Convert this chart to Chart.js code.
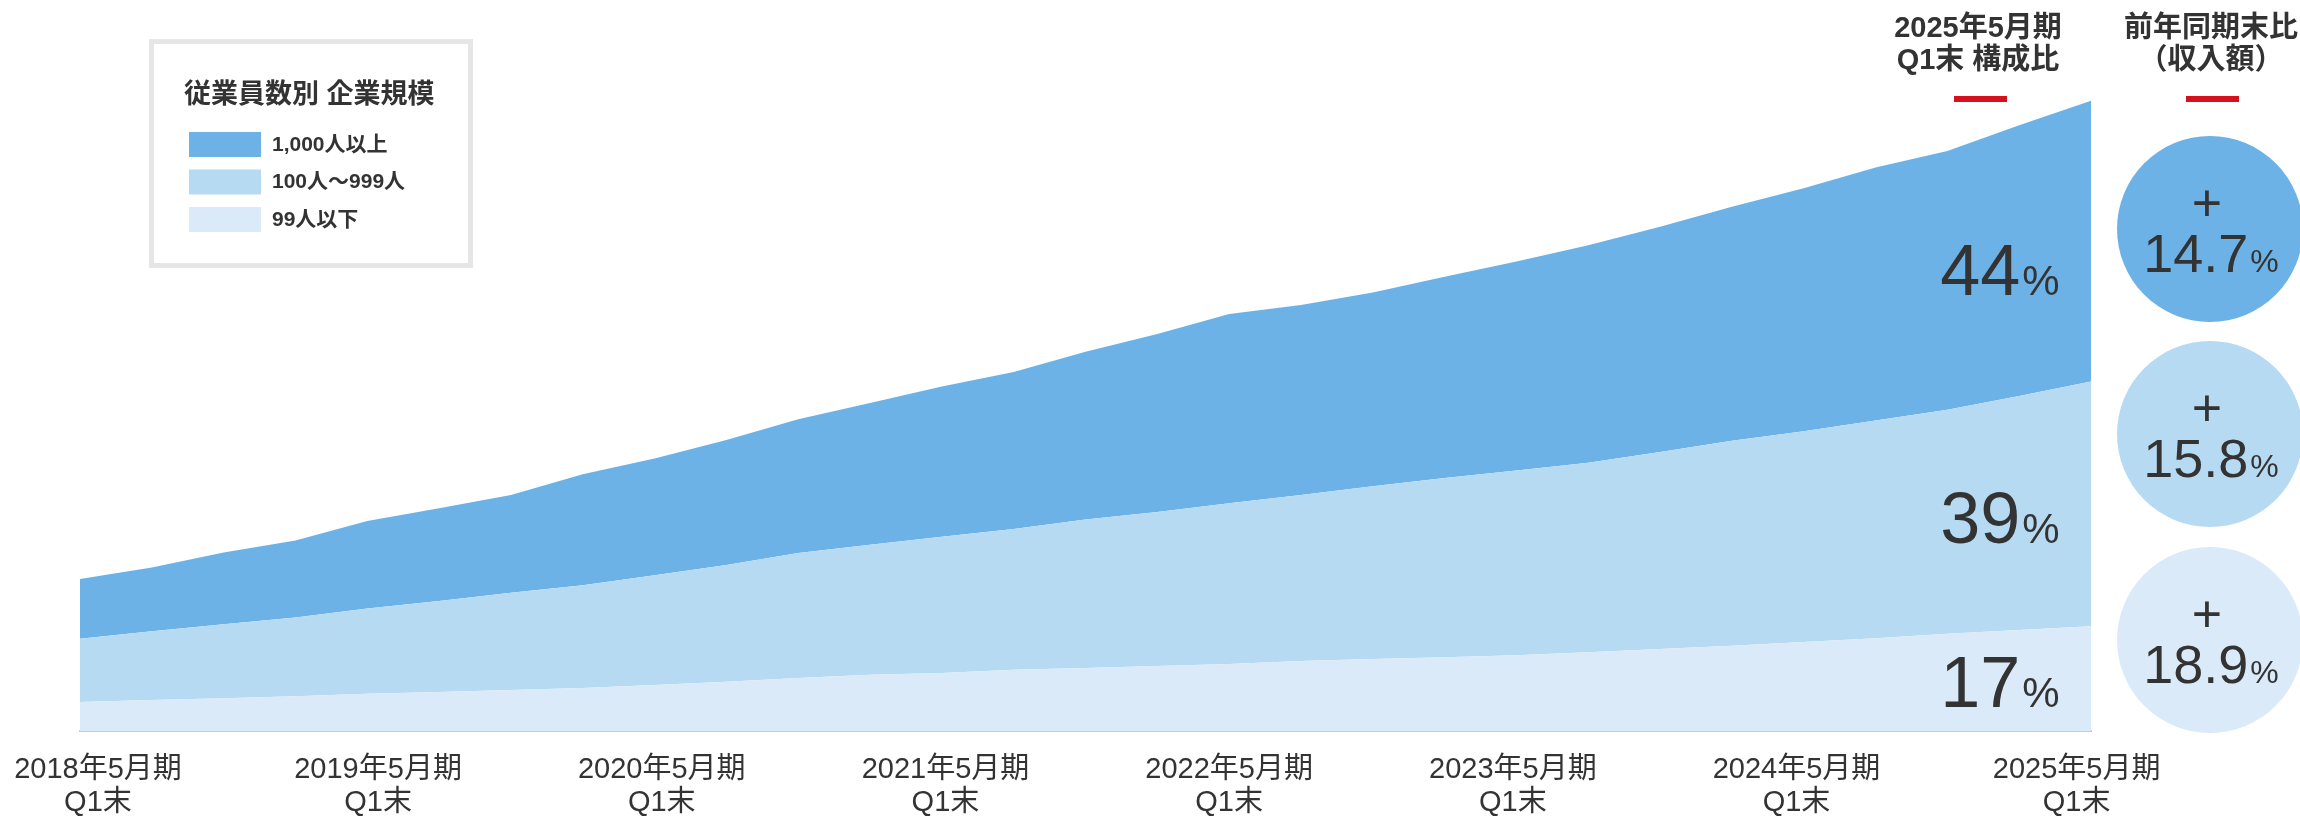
<!DOCTYPE html>
<html lang="ja">
<head>
<meta charset="utf-8">
<title>従業員数別 企業規模</title>
<script src="https://cdn.jsdelivr.net/npm/chart.js@4.4.1/dist/chart.umd.min.js"></script>
<style>
    html, body { margin: 0; padding: 0; background: #fff; }
    #sizeChart { display: block; }
</style>
</head>
<body>
<canvas id="sizeChart" width="2300" height="819"></canvas>
<script>
// quarter-end points, FY ends in May
const periods = [
    '2018年5月期 Q1末', '2018年5月期 Q2末', '2018年5月期 Q3末', '2018年5月期 Q4末',
    '2019年5月期 Q1末', '2019年5月期 Q2末', '2019年5月期 Q3末', '2019年5月期 Q4末',
    '2020年5月期 Q1末', '2020年5月期 Q2末', '2020年5月期 Q3末', '2020年5月期 Q4末',
    '2021年5月期 Q1末', '2021年5月期 Q2末', '2021年5月期 Q3末', '2021年5月期 Q4末',
    '2022年5月期 Q1末', '2022年5月期 Q2末', '2022年5月期 Q3末', '2022年5月期 Q4末',
    '2023年5月期 Q1末', '2023年5月期 Q2末', '2023年5月期 Q3末', '2023年5月期 Q4末',
    '2024年5月期 Q1末', '2024年5月期 Q2末', '2024年5月期 Q3末', '2024年5月期 Q4末',
    '2025年5月期 Q1末'
];

// revenue index by customer size (2025/5 Q1 total ~= 100)
const large  = [9.5, 10.1, 11.4, 12.2, 13.9, 14.7, 15.5, 17.6, 18.5, 19.8, 21.2, 22.5, 23.8, 24.9, 26.6,
                28.2, 30.0, 30.1, 30.7, 31.9, 33.1, 34.5, 35.7, 37.1, 38.5, 40.1, 41.0, 42.9, 44.5];
const medium = [10.0, 10.9, 11.7, 12.5, 13.5, 14.4, 15.4, 16.3, 17.4, 18.5, 19.8, 20.6, 21.6, 22.3, 23.5,
                24.4, 25.5, 26.3, 27.4, 28.4, 29.3, 30.0, 31.2, 32.5, 33.4, 34.5, 35.5, 37.1, 38.8];
const small  = [4.6, 4.9, 5.2, 5.5, 5.9, 6.2, 6.5, 6.8, 7.3, 7.8, 8.4, 8.9, 9.2, 9.7, 10.0,
                10.3, 10.6, 11.1, 11.4, 11.7, 12.0, 12.5, 13.0, 13.5, 14.1, 14.7, 15.4, 16.0, 16.6];

// x tick labels (one per fiscal year) and where they sit, in quarter units
const tickLabels = [
    ['2018年5月期', 'Q1末'], ['2019年5月期', 'Q1末'], ['2020年5月期', 'Q1末'], ['2021年5月期', 'Q1末'],
    ['2022年5月期', 'Q1末'], ['2023年5月期', 'Q1末'], ['2024年5月期', 'Q1末'], ['2025年5月期', 'Q1末']
];
const tickAt = [0.25, 4.15, 8.1, 12.05, 16, 19.95, 23.9, 27.8];

const segmentNames = ['1,000人以上', '100人～999人', '99人以下'];
const composition  = ['44', '39', '17'];       // 2025年5月期 Q1末 構成比 (%)
const yoyGrowth    = ['14.7', '15.8', '18.9']; // 前年同期末比 (収入額) (%)

const legendTitle = '従業員数別 企業規模';
const headerLeft  = ['2025年5月期', 'Q1末 構成比'];
const headerRight = ['前年同期末比', '（収入額）'];

const colors = ['#6cb2e6', '#b7daf3', '#daeaf8'];
const textColor = '#333333';
const FONT = "'Liberation Sans', Arial, 'Noto Sans CJK JP', sans-serif";

function drawPercent(ctx, num, numSize, pctSize, cx, baseY) {
    ctx.font = `${numSize}px ${FONT}`;
    let wNum = ctx.measureText(num).width;
    ctx.font = `${pctSize}px ${FONT}`;
    let wPct = ctx.measureText('%').width;
    let x = cx - (wNum + wPct + 2) / 2;
    ctx.textAlign = 'left';
    ctx.textBaseline = 'alphabetic';
    ctx.font = `${numSize}px ${FONT}`;
    ctx.fillText(num, x, baseY);
    ctx.font = `${pctSize}px ${FONT}`;
    ctx.fillText('%', x + wNum + 2, baseY);
}

const overlayPlugin = {
    id: 'overlay',
    afterDraw(chart) {
        const {ctx, chartArea} = chart;
        ctx.save();
        ctx.fillStyle = textColor;

        // composition labels inside each band, near the right edge
        const at = 26, t = 0.6;
        // meta order: 0 = small, 1 = medium, 2 = large
        const bandTops = [2, 1, 0].map(d => {
            let pts = chart.getDatasetMeta(d).data;
            return pts[at].y + (pts[at + 1].y - pts[at].y) * t;
        });
        const bandBottoms = [bandTops[1], bandTops[2], chartArea.bottom];
        const cx = chartArea.right - 91;
        composition.forEach((v, i) => {
            let mid = (bandTops[i] + bandBottoms[i]) / 2;
            ctx.fillStyle = textColor;
            drawPercent(ctx, v, 72, 42, cx, mid + 26);
        });

        // headers
        ctx.textAlign = 'center';
        ctx.textBaseline = 'middle';
        ctx.fillStyle = textColor;
        ctx.font = `bold 29px ${FONT}`;
        headerLeft.forEach((s, i) => ctx.fillText(s, 1978, 29 + i * 32));
        headerRight.forEach((s, i) => ctx.fillText(s, 2211, 29 + i * 32));
        ctx.fillStyle = '#d7101e';
        ctx.fillRect(1954, 96, 53, 6);
        ctx.fillRect(2186, 96, 53, 6);

        // YoY circles
        const circleY = [229, 434, 640];
        yoyGrowth.forEach((v, i) => {
            ctx.fillStyle = colors[i];
            ctx.beginPath();
            ctx.arc(2210, circleY[i], 93, 0, Math.PI * 2);
            ctx.fill();
            ctx.fillStyle = textColor;
            ctx.textAlign = 'center';
            ctx.textBaseline = 'middle';
            ctx.font = `52px ${FONT}`;
            ctx.fillText('+', 2207, circleY[i] - 22);
            drawPercent(ctx, v, 54, 32, 2211, circleY[i] + 43);
        });

        // legend box
        ctx.strokeStyle = '#e6e6e6';
        ctx.lineWidth = 5;
        ctx.strokeRect(151.5, 41.5, 319, 224);
        ctx.fillStyle = textColor;
        ctx.textAlign = 'left';
        ctx.textBaseline = 'middle';
        ctx.font = `bold 27px ${FONT}`;
        ctx.fillText(legendTitle, 184, 96);
        segmentNames.forEach((name, i) => {
            let y = 132 + i * 37.5;
            ctx.fillStyle = colors[i];
            ctx.fillRect(189, y, 72, 25);
            ctx.fillStyle = textColor;
            ctx.font = `bold 21px ${FONT}`;
            ctx.fillText(name, 272, y + 13);
        });

        ctx.restore();
    }
};

new Chart(document.getElementById('sizeChart'), {
    type: 'line',
    plugins: [overlayPlugin],
    data: {
        labels: periods,
        datasets: [
            {label: segmentNames[2], data: small, backgroundColor: colors[2], fill: 'origin'},
            {label: segmentNames[1], data: medium, backgroundColor: colors[1], fill: '-1'},
            {label: segmentNames[0], data: large, backgroundColor: colors[0], fill: '-1'}
        ]
    },
    options: {
        responsive: false,
        animation: false,
        devicePixelRatio: 1,
        elements: {
            line: {borderWidth: 0, tension: 0},
            point: {radius: 0, hoverRadius: 0}
        },
        layout: {
            padding: {top: 100, right: 209, bottom: 0, left: 80}
        },
        plugins: {
            legend: {display: false},
            tooltip: {enabled: false}
        },
        scales: {
            x: {
                display: false,
                offset: false
            },
            // label-only axis spanning the same quarters as x
            xLabels: {
                type: 'linear',
                position: 'bottom',
                min: 0,
                max: periods.length - 1,
                z: 1,
                grid: {display: false, drawTicks: false},
                border: {display: true, color: '#cccccc', width: 2},
                ticks: {
                    autoSkip: false,
                    maxRotation: 0,
                    minRotation: 0,
                    padding: 22,
                    color: textColor,
                    font: {family: FONT, size: 29, lineHeight: 1.15},
                    callback: function (value, index) {
                        return tickLabels[index];
                    }
                },
                afterBuildTicks: function (scale) {
                    scale.ticks = tickAt.map(v => ({value: v}));
                },
                afterFit: function (scale) {
                    scale.height = 88;
                    scale.paddingLeft = 0;
                    scale.paddingRight = 0;
                }
            },
            y: {
                display: false,
                stacked: true,
                min: 0,
                max: 100
            }
        }
    }
});
</script>
</body>
</html>
